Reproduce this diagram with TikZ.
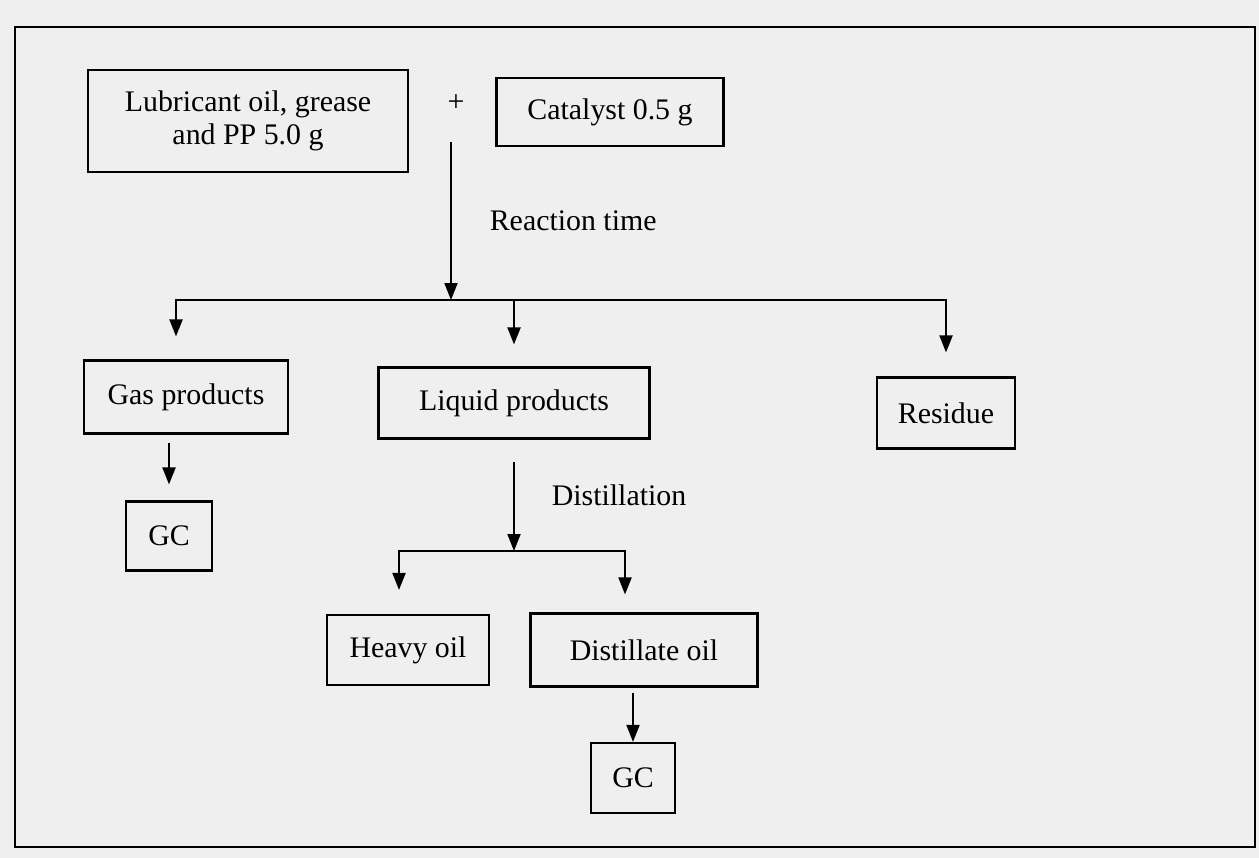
\documentclass[tikz,border=0pt]{standalone}
\usepackage{fontspec}
\setmainfont{Liberation Serif}
\usetikzlibrary{arrows.meta}
\definecolor{paper}{RGB}{239,239,239}

\begin{document}
\begin{tikzpicture}[x=0.02cm, y=-0.02cm, line width=1.1pt,
        >={Triangle[length=0.34cm, width=0.26cm]},
        box/.style = {draw, line width=1.2pt, align=center, inner sep=0pt, font=\fontsize{17}{19}\selectfont},
        lbl/.style = {font=\fontsize{17}{19}\selectfont}]
        \useasboundingbox[fill=paper] (0,0) rectangle (1259,858);
        \draw (15,27) rectangle (1255,847);

        \node[box, minimum width=6.4cm, minimum height=2.04cm] (lub) at (248,121) {Lubricant oil, grease\\and PP 5.0 g};
        \node[lbl] (plus) at (456,103) {+};
        \node[box, minimum width=4.54cm, minimum height=1.36cm] (cat) at (610,112) {Catalyst 0.5 g};

        \node[box, minimum width=4.08cm, minimum height=1.46cm] (gas) at (186,397) {Gas products};
        \node[box, minimum width=5.42cm, minimum height=1.42cm] (liq) at (514,403) {Liquid products};
        \node[box, minimum width=2.76cm, minimum height=1.42cm] (res) at (946,413) {Residue};

        \node[box, minimum width=1.72cm, minimum height=1.38cm] (gc1) at (169,536) {GC};
        \node[box, minimum width=3.24cm, minimum height=1.4cm] (heavy) at (408,650) {Heavy oil};
        \node[box, minimum width=4.54cm, minimum height=1.46cm] (dist) at (644,650) {Distillate oil};
        \node[box, minimum width=1.68cm, minimum height=1.4cm] (gc2) at (633,778) {GC};

        \coordinate (mix) at (451,142);
        \coordinate (split) at (451,300);
        \coordinate (split2) at (514,551);

        % reaction
        \draw[->] (mix) -- node[midway, right=0.64cm, lbl] {Reaction time} (split);
        \draw[->, shorten >=0.46cm] (split) -| ([xshift=-0.2cm]gas.north);
        \draw[->, shorten >=0.44cm] (split) -| (liq.north);
        \draw[->, shorten >=0.48cm] (split) -| (res.north);

        \draw[->, shorten <=0.16cm, shorten >=0.32cm] (gc1.north |- gas.south) -- (gc1.north);

        % distillation
        \draw[->, shorten <=0.44cm] (liq.south) -- node[midway, right=0.62cm, lbl] {Distillation} (split2);
        \draw[->, shorten >=0.48cm] (split2) -| ([xshift=-0.18cm]heavy.north);
        \draw[->, shorten >=0.36cm] (split2) -| ([xshift=-0.38cm]dist.north);

        \draw[->, shorten <=0.1cm] (gc2.north |- dist.south) -- (gc2.north);

    \end{tikzpicture}
\end{document}
